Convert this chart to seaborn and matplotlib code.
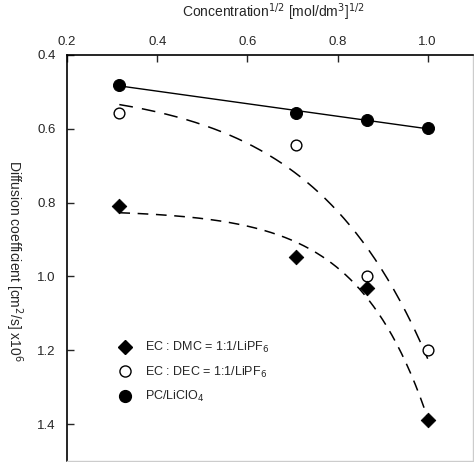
import numpy as np
import pandas as pd
import matplotlib
matplotlib.use('Agg')
import matplotlib.pyplot as plt
from matplotlib.lines import Line2D
import seaborn as sns

# data
conc_sqrt = [0.316, 0.707, 0.866, 1.0]
d_pc = [0.481, 0.557, 0.576, 0.597]      # PC/LiClO4
d_dec = [0.557, 0.643, 1.0, 1.2]         # EC : DEC = 1:1/LiPF6
d_dmc = [0.81, 0.946, 1.03, 1.39]        # EC : DMC = 1:1/LiPF6

x_ticks = [0.2, 0.4, 0.6, 0.8, 1.0]
y_ticks = [0.4, 0.6, 0.8, 1.0, 1.2, 1.4]


def exp_fit(x, y):
    # y = a + b*exp(c*x), c by grid search, a and b by least squares
    x = np.asarray(x)
    y = np.asarray(y)
    best = None
    for c in np.linspace(0.2, 30, 4000):
        A = np.column_stack([np.ones_like(x), np.exp(c * x)])
        coef, *_ = np.linalg.lstsq(A, y, rcond=None)
        err = np.sum((A @ coef - y) ** 2)
        if best is None or err < best[0]:
            best = (err, c, coef)
    _, c, (a, b) = best
    xs = np.linspace(x.min(), x.max(), 200)
    return xs, a + b * np.exp(c * xs)


sns.set_style('ticks')
plt.rcParams['font.family'] = ['Liberation Sans', 'DejaVu Sans']

fig = plt.figure(figsize=(4.74, 4.62), dpi=100)
ax = fig.add_axes([0.1414, 0.002, 0.856, 0.879])

df = pd.DataFrame({'x': conc_sqrt, 'pc': d_pc, 'dec': d_dec, 'dmc': d_dmc})

# fitted lines
slope, icpt = np.polyfit(conc_sqrt, d_pc, 1)
xl = np.array([min(conc_sqrt), max(conc_sqrt)])
sns.lineplot(x=xl, y=slope * xl + icpt, ax=ax, color='black', lw=1.0)
xs, ys = exp_fit(conc_sqrt, d_dec)
sns.lineplot(x=xs, y=ys, ax=ax, color='black', lw=1.1, linestyle=(0, (9, 6)))
xs, ys = exp_fit(conc_sqrt, d_dmc)
sns.lineplot(x=xs, y=ys, ax=ax, color='black', lw=1.1, linestyle=(0, (7, 5)))

# points
sns.scatterplot(data=df, x='x', y='pc', ax=ax, marker='o', s=75, color='black',
                edgecolor='black', zorder=3)
sns.scatterplot(data=df, x='x', y='dec', ax=ax, marker='o', s=60, facecolor='white',
                edgecolor='black', linewidth=1.0, zorder=3)
sns.scatterplot(data=df, x='x', y='dmc', ax=ax, marker='D', s=55, color='black',
                edgecolor='black', zorder=3)

ax.set_xlim(0.2, 1.1)
ax.set_ylim(1.5, 0.4)
ax.set_xticks(x_ticks)
ax.set_yticks(y_ticks)
ax.set_xticklabels([f'{v:.1f}' for v in x_ticks])
ax.set_yticklabels([f'{v:.1f}' for v in y_ticks])
ax.xaxis.tick_top()
ax.xaxis.set_label_position('top')
ax.tick_params(axis='x', direction='in', length=5, width=1, pad=5, labelsize=9.5)
ax.tick_params(axis='y', direction='in', length=5, width=1, pad=8, labelsize=9.5)

for side in ['top', 'left']:
    ax.spines[side].set_linewidth(1.2)
    ax.spines[side].set_color('black')
for side in ['bottom', 'right']:
    ax.spines[side].set_linewidth(1.0)
    ax.spines[side].set_color('#cccccc')

ax.set_xlabel(r'Concentration$^{1/2}$ [mol/dm$^3$]$^{1/2}$', fontsize=10, va='center')
ax.xaxis.set_label_coords(0.507, 1.106)
ax.set_ylabel(r'Diffusion coefficient [cm$^2$/s] x10$^6$', fontsize=10,
              rotation=270, va='center', ha='center')
ax.yaxis.set_label_coords(-0.132, 0.493)

handles = [
    Line2D([], [], ls='none', marker='D', ms=7, color='black'),
    Line2D([], [], ls='none', marker='o', ms=8, mfc='white', mec='black', mew=1.0),
    Line2D([], [], ls='none', marker='o', ms=8.5, color='black'),
]
labels = [r'EC : DMC = 1:1/LiPF$_6$', r'EC : DEC = 1:1/LiPF$_6$', r'PC/LiClO$_4$']
ax.legend(handles, labels, loc='center left', bbox_to_anchor=(0.128, 0.219),
          frameon=False, fontsize=9, handlelength=1.0, handletextpad=1.1,
          labelspacing=0.75, borderpad=0, borderaxespad=0)

fig.savefig('out.png', dpi=100)
plt.close(fig)
